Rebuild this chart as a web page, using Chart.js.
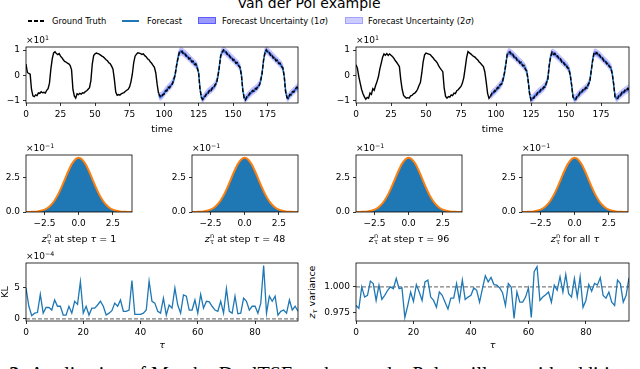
<!DOCTYPE html>
<html>
<head>
<meta charset="utf-8">
<title>Van der Pol example</title>
<script src="https://cdn.jsdelivr.net/npm/chart.js@4.4.1/dist/chart.umd.min.js"></script>
<style>
  html, body { margin: 0; padding: 0; background: #fff; }
  body { position: relative; width: 640px; height: 369px; overflow: hidden; font-family: 'DejaVu Sans', sans-serif; color: #000; }
  canvas { position: absolute; }
  .lbl { position: absolute; white-space: nowrap; line-height: 1; color: #000; }
  .ctr { transform: translateX(-50%); }
  .zs { display: inline-block; vertical-align: -0.35em; font-size: 0.7em; line-height: 0.95; margin-left: 0.05em; }
  .zs span { display: block; }
  sup { font-size: 0.7em; vertical-align: 0.5em; line-height: 0; }
  sub { font-size: 0.7em; vertical-align: -0.3em; line-height: 0; }
  .sw { position: absolute; }
</style>
</head>
<body>

<div class="lbl ctr" style="left:309px; top:-4px; font-size:14px;">Van der Pol example</div>

<!-- legend -->
<div class="sw" style="left:28px; top:20px; width:17px; height:1.6px; background:repeating-linear-gradient(90deg,#000 0 4px,transparent 4px 6px);"></div>
<div class="lbl" style="left:52px; top:17px; font-size:8.3px;">Ground Truth</div>
<div class="sw" style="left:122px; top:20px; width:17px; height:1.6px; background:#1f77b4;"></div>
<div class="lbl" style="left:147px; top:17px; font-size:8.3px;">Forecast</div>
<div class="sw" style="left:198px; top:17px; width:16px; height:5px; background:rgba(0,0,255,0.4); border:1px solid rgba(0,0,255,0.4);"></div>
<div class="lbl" style="left:222px; top:17px; font-size:8.3px;">Forecast Uncertainty (1<i>σ</i>)</div>
<div class="sw" style="left:345px; top:17px; width:16px; height:5px; background:rgba(0,0,255,0.2); border:1px solid rgba(0,0,255,0.2);"></div>
<div class="lbl" style="left:368px; top:17px; font-size:8.3px;">Forecast Uncertainty (2<i>σ</i>)</div>

<canvas id="seriesLeft"></canvas>
<canvas id="seriesRight"></canvas>
<canvas id="hist1"></canvas>
<canvas id="hist48"></canvas>
<canvas id="hist96"></canvas>
<canvas id="histAll"></canvas>
<canvas id="klChart"></canvas>
<canvas id="varChart"></canvas>

<!-- offset texts -->
<div class="lbl" style="left:26px; top:36px; font-size:9px;">×10<sup>1</sup></div>
<div class="lbl" style="left:356px; top:36px; font-size:9px;">×10<sup>1</sup></div>
<div class="lbl" style="left:26px; top:144px; font-size:9px;">×10<sup>−1</sup></div>
<div class="lbl" style="left:192px; top:144px; font-size:9px;">×10<sup>−1</sup></div>
<div class="lbl" style="left:356px; top:144px; font-size:9px;">×10<sup>−1</sup></div>
<div class="lbl" style="left:522px; top:144px; font-size:9px;">×10<sup>−1</sup></div>
<div class="lbl" style="left:26px; top:252px; font-size:9px;">×10<sup>−4</sup></div>

<!-- histogram x labels -->
<div class="lbl ctr" style="left:79px; top:233px; font-size:9.5px;"><i>z</i><span class="zs"><span>n</span><span>τ</span></span> at step <i>τ</i> = 1</div>
<div class="lbl ctr" style="left:245px; top:233px; font-size:9.5px;"><i>z</i><span class="zs"><span>n</span><span>τ</span></span> at step <i>τ</i> = 48</div>
<div class="lbl ctr" style="left:409px; top:233px; font-size:9.5px;"><i>z</i><span class="zs"><span>n</span><span>τ</span></span> at step <i>τ</i> = 96</div>
<div class="lbl ctr" style="left:575px; top:233px; font-size:9.5px;"><i>z</i><span class="zs"><span>n</span><span>τ</span></span> for all <i>τ</i></div>

<div class="lbl" style="left:312px; top:292px; font-size:9.5px; transform:translate(-50%,-50%) rotate(-90deg);"><i>z</i><sub><i>τ</i></sub> variance</div>

<div class="lbl" style="left:-52px; top:364px; font-family:'Liberation Serif',serif; font-size:20px;"><b>Figure 3:</b> Application of Mamba-DualTSE to the van der Pol oscillator with additive noise.</div>

<script>
// --- data ---
const forecastStart = 96;
const forecastStd = 0.8;

const truthLeft = [
  4.5, 1.2, 0.8, 0.5, -5.5, -8.0, -8.3, -7.6, -7.9, -6.8,
  -7.0, -6.4, -6.8, -6.6, -6.9, -5.8, -5.2, -3.0, 2.5, 6.5,
  8.9, 9.3, 8.6, 8.2, 8.6, 7.6, 7.0, 6.2, 5.5, 5.3,
  4.9, 4.6, 3.9, 2.2, -5.5, -8.0, -8.9, -7.2, -7.5, -7.0,
  -7.3, -6.8, -6.9, -6.3, -6.0, -5.4, -4.8, -2.0, 4.5, 7.8,
  8.5, 8.8, 8.6, 8.4, 8.0, 7.6, 7.3, 6.8, 6.2, 5.8,
  5.0, 4.6, 3.7, 2.5, -1.5, -6.5, -7.8, -7.5, -7.7, -7.2,
  -6.9, -6.7, -6.2, -5.8, -5.4, -4.5, -2.5, 0.5, 5.0, 7.6,
  8.4, 8.9, 8.8, 8.6, 8.3, 8.5, 7.8, 7.4, 6.6, 6.2,
  5.4, 4.8, 4.0, 3.2, 1.0, -3.5,
  -7.0, -8.0, -8.5, -7.6, -7.4, -6.0, -6.1, -4.6, -4.9, -3.5,
  -3.4, -1.6, 0.4, 3.9, 6.5, 9.1, 8.9, 9.5, 8.4, 8.7,
  7.6, 7.8, 6.5, 6.8, 5.4, 5.6, 4.3, 4.6, 2.9, 1.3,
  -5.4, -8.5, -9.4, -8.2, -8.1, -6.7, -6.9, -5.6, -6.0, -4.8,
  -4.9, -3.5, -3.1, -0.2, 3.1, 7.8, 9.0, 10.0, 9.1, 9.2,
  8.0, 8.3, 7.0, 7.2, 5.9, 6.2, 4.8, 5.1, 3.8, 3.3,
  0.1, -5.9, -8.7, -9.6, -8.3, -8.2, -6.9, -7.1, -5.9, -6.2,
  -5.1, -5.3, -4.0, -3.9, -1.8, 0.6, 5.9, 8.7, 10.1, 9.1,
  9.3, 8.0, 8.3, 6.9, 7.2, 5.8, 6.0, 4.7, 4.9, 3.5,
  3.1, -0.4, -6.3, -8.6, -9.0, -7.5, -7.6, -6.3, -6.5, -5.3,
  -4.6, -5.0
];
const forecastLeft = [
  -7.8, -8.4, -8.2, -7.6, -7.0, -6.2, -5.6, -5.0, -4.4, -3.9,
  -3.1, -2.0, 0.0, 3.5, 6.8, 8.8, 9.4, 9.3, 8.9, 8.4,
  8.0, 7.4, 6.9, 6.3, 5.8, 5.2, 4.7, 4.2, 3.3, 1.0,
  -5.0, -8.8, -9.2, -8.6, -7.8, -7.1, -6.5, -6.0, -5.6, -5.1,
  -4.6, -3.9, -2.8, -0.5, 3.5, 7.5, 9.3, 9.7, 9.4, 8.9,
  8.4, 7.9, 7.3, 6.8, 6.3, 5.8, 5.2, 4.7, 4.1, 3.0,
  0.5, -5.5, -9.0, -9.3, -8.6, -7.9, -7.3, -6.8, -6.3, -5.9,
  -5.5, -5.0, -4.4, -3.6, -2.2, 1.0, 5.5, 9.0, 9.8, 9.5,
  9.0, 8.4, 7.9, 7.3, 6.8, 6.2, 5.7, 5.1, 4.5, 3.9,
  2.8, 0.0, -6.0, -8.9, -8.7, -7.9, -7.2, -6.7, -6.1, -5.6,
  -5.1, -4.7
];
const truthRight = [
  4.2, 2.9, -0.4, -3.0, -5.5, -7.2, -8.4, -9.3, -8.6, -8.9,
  -6.9, -7.4, -5.2, -5.8, -3.9, -2.4, -0.5, 2.5, 4.8, 7.2,
  8.5, 8.0, 8.6, 7.9, 8.5, 8.0, 7.5, 6.8, 5.9, 5.2,
  4.4, 3.5, -1.7, -5.5, -7.8, -8.4, -8.9, -8.7, -8.9, -8.0,
  -7.8, -7.2, -6.9, -6.3, -5.4, -3.9, -2.8, 1.0, 5.5, 8.1,
  8.8, 8.6, 8.4, 8.2, 7.6, 7.0, 6.2, 5.7, 5.0, 3.9,
  3.0, 2.2, 1.5, -5.0, -8.2, -8.9, -8.3, -8.5, -7.6, -7.9,
  -6.9, -7.1, -6.0, -5.6, -4.9, -4.3, -3.0, -0.8, 3.0, 7.0,
  9.4, 8.9, 8.5, 8.0, 7.5, 7.2, 6.6, 6.1, 5.3, 4.8,
  4.1, 3.5, 1.5, -2.5, -7.0, -9.0,
  -8.2, -7.0, -7.2, -5.9, -6.2, -4.7, -4.9, -3.5, -3.5, -1.6,
  0.9, 4.1, 8.4, 8.7, 9.3, 8.1, 8.4, 7.1, 7.4, 6.0,
  6.2, 4.9, 5.2, 3.8, 4.0, 2.4, 1.8, -2.4, -7.1, -9.7,
  -8.8, -8.9, -7.5, -7.7, -6.4, -6.7, -5.5, -5.8, -4.5, -4.6,
  -2.8, -1.6, 3.9, 7.2, 9.2, 8.3, 8.7, 7.5, 7.7, 6.4,
  6.6, 5.3, 5.5, 4.2, 4.4, 3.0, 2.8, 0.1, -3.6, -8.6,
  -9.0, -9.4, -7.9, -8.0, -6.6, -6.9, -5.6, -6.0, -4.7, -4.9,
  -3.3, -2.6, 1.9, 5.6, 9.0, 8.5, 9.0, 7.8, 8.1, 6.8,
  7.0, 5.7, 5.9, 4.6, 4.8, 3.4, 3.3, 0.6, -3.1, -8.4,
  -8.6, -9.0, -7.6, -7.9, -6.6, -7.0, -5.8, -6.2, -5.1, -5.6
];
const forecastRight = [
  -8.0, -7.4, -6.8, -6.3, -5.8, -5.1, -4.5, -3.9, -3.1, -2.0,
  0.5, 4.5, 8.0, 9.0, 8.9, 8.5, 8.0, 7.5, 7.0, 6.4,
  5.8, 5.3, 4.8, 4.2, 3.6, 2.8, 1.4, -2.0, -7.5, -9.3,
  -9.2, -8.5, -7.9, -7.3, -6.8, -6.3, -5.9, -5.4, -4.9, -4.2,
  -3.2, -1.2, 3.5, 7.6, 8.8, 8.7, 8.3, 7.9, 7.3, 6.8,
  6.2, 5.7, 5.1, 4.6, 4.0, 3.4, 2.4, 0.5, -4.0, -8.2,
  -9.4, -9.0, -8.3, -7.6, -7.0, -6.5, -6.0, -5.6, -5.1, -4.5,
  -3.7, -2.2, 1.5, 6.0, 8.6, 8.9, 8.6, 8.2, 7.7, 7.2,
  6.6, 6.1, 5.5, 5.0, 4.4, 3.8, 2.9, 1.0, -3.5, -8.0,
  -9.0, -8.6, -8.0, -7.5, -7.0, -6.6, -6.2, -5.8, -5.5, -5.2
];
const timeTicks = [0, 25, 50, 75, 100, 125, 150, 175];
const seriesTicks = [-10, 0, 10];

// histogram of z (values x10^-1)
const zGrid = [-4, -3.75, -3.5, -3.25, -3, -2.75, -2.5, -2.25, -2, -1.75, -1.5, -1.25, -1, -0.75, -0.5, -0.25,
  0, 0.25, 0.5, 0.75, 1, 1.25, 1.5, 1.75, 2, 2.25, 2.5, 2.75, 3, 3.25, 3.5, 3.75, 4];
const zHist = [0.000, 0.003, 0.010, 0.021, 0.045, 0.090, 0.176, 0.318, 0.538, 0.866, 1.292, 1.829, 2.418, 3.015, 3.519, 3.870,
  3.986, 3.869, 3.523, 3.008, 2.423, 1.824, 1.297, 0.861, 0.541, 0.316, 0.174, 0.092, 0.043, 0.019, 0.009, 0.004, 0.001];
const zPdf = [0.001, 0.004, 0.009, 0.020, 0.044, 0.091, 0.175, 0.317, 0.540, 0.863, 1.295, 1.826, 2.420, 3.011, 3.521, 3.867,
  3.989, 3.867, 3.521, 3.011, 2.420, 1.826, 1.295, 0.863, 0.540, 0.317, 0.175, 0.091, 0.044, 0.020, 0.009, 0.004, 0.001];
const histTicksX = [-2.5, 0, 2.5];
const histTicksY = [0, 2.5];

// KL per step (x10^-4) and z variance per step
const klValues = [
  4.9, 2.0, 0.5, 0.9, 1.0, 3.9, 0.9, 1.8, 1.8, 1.4,
  3.0, 2.0, 2.0, 0.6, 0.6, 2.0, 0.9, 2.8, 2.3, 5.9,
  0.9, 2.0, 0.6, 1.7, 1.7, 2.2, 2.8, 2.0, 0.6, 0.9,
  1.3, 2.5, 2.0, 3.0, 1.2, 1.2, 1.4, 6.1, 0.7, 0.7,
  0.7, 0.9, 1.4, 6.0, 2.8, 2.5, 1.2, 0.9, 3.3, 0.6,
  2.2, 1.7, 4.9, 2.2, 0.9, 3.8, 3.6, 1.4, 1.4, 3.0,
  0.9, 3.9, 1.7, 2.8, 2.7, 2.0, 1.4, 1.2, 2.8, 0.9,
  4.8, 1.2, 0.9, 3.6, 0.8, 0.9, 3.3, 2.8, 1.4, 2.0,
  2.0, 0.9, 2.5, 8.5, 0.9, 3.6, 2.8, 3.6, 0.6, 1.2,
  1.4, 0.9, 3.0, 1.4, 2.0, 1.2
];
const varValues = [
  0.9817, 0.979, 1.000, 0.990, 0.9917, 1.0057, 1.0033, 0.9867, 1.0017, 0.9877,
  0.9917, 0.9967, 1.000, 0.9983, 1.0083, 0.9983, 0.999, 0.970, 0.9817, 0.995,
  0.9857, 1.0023, 0.995, 0.9867, 1.005, 1.0067, 0.990, 0.9867, 0.980, 0.995,
  0.9917, 0.985, 0.9783, 0.989, 0.989, 1.0033, 0.9867, 1.0067, 0.9877, 0.990,
  0.9917, 0.999, 0.9967, 0.985, 0.9983, 1.011, 1.005, 1.0093, 1.0023, 1.0017,
  0.999, 0.9943, 0.9817, 1.0033, 1.000, 0.969, 0.995, 0.985, 0.985, 0.990,
  0.999, 0.970, 1.015, 1.020, 0.9867, 0.990, 0.9923, 0.995, 0.985, 1.0017,
  0.9967, 1.010, 0.995, 1.0123, 0.9933, 0.990, 1.0083, 0.990, 1.010, 0.980,
  0.9867, 1.0023, 0.9957, 1.0033, 1.0017, 1.009, 0.9917, 0.989, 0.995, 0.985,
  0.9817, 1.0067, 1.0033, 0.985, 0.9917, 1.009
];
const klReference = 0;
const varReference = 1.0;
const stepTicks = [0, 20, 40, 60, 80];
const klTicks = [0, 5];
const varTicks = [0.975, 1.0];

// --- setup ---
Chart.defaults.font.family = "'DejaVu Sans', sans-serif";
Chart.defaults.font.size = 9;
Chart.defaults.color = '#000';

// all four spines like matplotlib
const framePlugin = {
  id: 'frame',
  afterDraw(chart) {
    const { ctx, chartArea: a } = chart;
    ctx.save();
    ctx.strokeStyle = '#000';
    ctx.lineWidth = 0.8;
    ctx.strokeRect(a.left, a.top, a.right - a.left, a.bottom - a.top);
    ctx.restore();
  }
};

const minus = s => String(s).replace('-', '\u2212');

// box = [left, top, right, bottom] of the plot area, ext = room around it [l, t, r, b]
function place(id, box, ext) {
  const c = document.getElementById(id);
  c.width = box[2] - box[0] + ext[0] + ext[2];
  c.height = box[3] - box[1] + ext[1] + ext[3];
  c.style.left = (box[0] - ext[0]) + 'px';
  c.style.top = (box[1] - ext[1]) + 'px';
  return c;
}

function axis(min, max, ticks, fmt, size, horizontal, title) {
  return {
    type: 'linear', min, max,
    grid: { drawOnChartArea: false, tickLength: 3, tickColor: '#000', lineWidth: 0.8 },
    border: { display: false },
    ticks: { padding: 3, maxRotation: 0, autoSkip: false, callback: fmt },
    afterBuildTicks: s => { s.ticks = ticks.map(v => ({ value: v })); },
    afterFit: s => { if (horizontal) s.height = size; else s.width = size; },
    title: title ? { display: true, text: title.text, padding: 0, font: { size: 9.5, style: title.style || 'normal' } } : { display: false }
  };
}

function makeChart(id, box, ext, datasets, x, y) {
  const c = place(id, box, ext);
  return new Chart(c, {
    type: 'line',
    data: { datasets },
    options: {
      responsive: false, animation: false, devicePixelRatio: 1,
      layout: { padding: { top: ext[1], right: ext[2], left: 0, bottom: 0 } },
      plugins: { legend: { display: false }, tooltip: { enabled: false } },
      elements: { point: { radius: 0 }, line: { tension: 0 } },
      scales: { x, y }
    },
    plugins: [framePlugin]
  });
}

function seriesDatasets(truth, forecast) {
  const pts = (arr, start, k) => arr.map((v, i) => ({ x: start + i, y: v + k * forecastStd }));
  return [
    { data: pts(forecast, forecastStart, -2), borderColor: 'transparent', borderWidth: 0, fill: false, order: 6 },
    { data: pts(forecast, forecastStart, 2), borderColor: 'rgba(0,0,255,0.2)', borderWidth: 0.8, fill: '-1', backgroundColor: 'rgba(0,0,255,0.2)', order: 5 },
    { data: pts(forecast, forecastStart, -1), borderColor: 'transparent', borderWidth: 0, fill: false, order: 4 },
    { data: pts(forecast, forecastStart, 1), borderColor: 'transparent', borderWidth: 0, fill: '-1', backgroundColor: 'rgba(0,0,255,0.4)', order: 3 },
    { data: pts(forecast, forecastStart, 0), borderColor: '#1f77b4', borderWidth: 1.4, fill: false, order: 2 },
    { data: pts(truth.slice(0, forecastStart + 1), 0, 0), borderColor: '#000', borderWidth: 1.4, fill: false, order: 1 },
    { data: pts(truth.slice(forecastStart), forecastStart, 0), borderColor: '#000', borderWidth: 1.4, borderDash: [4, 2], fill: false, order: 0 }
  ];
}

const seriesFmt = v => minus(v / 10);
makeChart('seriesLeft', [26, 47, 298, 103], [26, 12, 8, 32], seriesDatasets(truthLeft, forecastLeft),
  axis(0, truthLeft.length - 1, timeTicks, v => String(v), 32, true, { text: 'time' }),
  axis(-10.8, 11.2, seriesTicks, seriesFmt, 26, false));
makeChart('seriesRight', [356, 47, 629, 103], [30, 12, 8, 32], seriesDatasets(truthRight, forecastRight),
  axis(0, truthRight.length - 1, timeTicks, v => String(v), 32, true, { text: 'time' }),
  axis(-10.8, 11.2, seriesTicks, seriesFmt, 30, false));

function histDatasets() {
  return [
    { data: zGrid.map((x, i) => ({ x, y: zPdf[i] })), borderColor: '#ff7f0e', borderWidth: 2, fill: false, cubicInterpolationMode: 'monotone', order: 0 },
    { data: zGrid.map((x, i) => ({ x, y: zHist[i] })), borderColor: 'transparent', borderWidth: 0, backgroundColor: '#1f77b4', fill: 'origin', cubicInterpolationMode: 'monotone', order: 1 }
  ];
}
const histPanels = [
  ['hist1', [26, 155, 132, 212], 26],
  ['hist48', [192, 155, 298, 212], 30],
  ['hist96', [356, 155, 462, 212], 30],
  ['histAll', [522, 155, 628, 212], 30]
];
histPanels.forEach(([id, box, l]) => {
  makeChart(id, box, [l, 12, 6, 18], histDatasets(),
    axis(-3.85, 3.9, histTicksX, v => minus(v.toFixed(1)), 18, true),
    axis(0, 4.19, histTicksY, v => v.toFixed(1), l, false));
});

const steps = klValues.map((v, i) => i);
makeChart('klChart', [26, 263, 298, 321], [26, 12, 8, 30], [
    { data: steps.map(i => ({ x: i, y: klValues[i] })), borderColor: '#1f77b4', borderWidth: 1.3, fill: false, order: 0 },
    { data: [{ x: 0, y: klReference }, { x: steps.length - 1, y: klReference }], borderColor: '#808080', borderWidth: 1.3, borderDash: [4, 2], fill: false, order: 1 }
  ],
  axis(0, steps.length - 1, stepTicks, v => String(v), 30, true, { text: 'τ', style: 'italic' }),
  axis(-0.35, 8.9, klTicks, v => String(v), 26, false, { text: 'KL' }));

makeChart('varChart', [356, 263, 629, 321], [36, 12, 8, 30], [
    { data: steps.map(i => ({ x: i, y: varValues[i] })), borderColor: '#1f77b4', borderWidth: 1.3, fill: false, order: 0 },
    { data: [{ x: 0, y: varReference }, { x: steps.length - 1, y: varReference }], borderColor: '#808080', borderWidth: 1.3, borderDash: [4, 2], fill: false, order: 1 }
  ],
  axis(0, steps.length - 1, stepTicks, v => String(v), 30, true, { text: 'τ', style: 'italic' }),
  axis(0.9665, 1.0235, varTicks, v => v.toFixed(3), 36, false));
</script>
</body>
</html>
